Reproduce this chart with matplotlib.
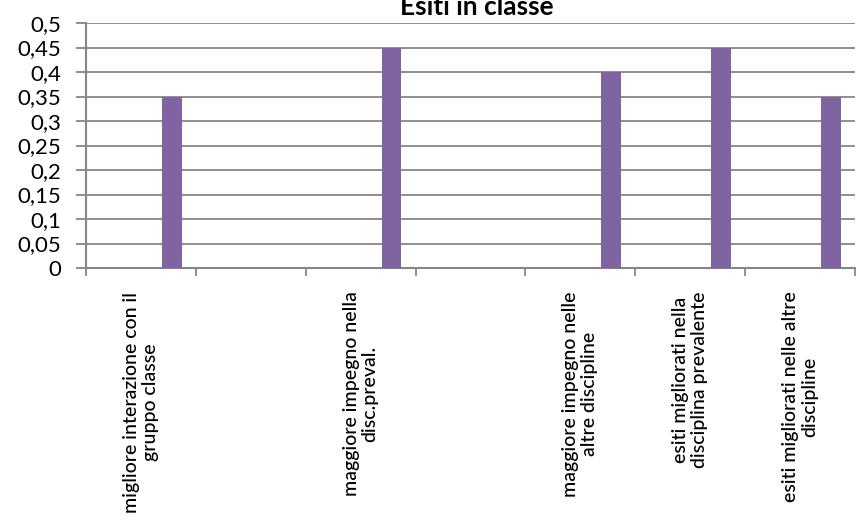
import matplotlib
matplotlib.use("Agg")
import matplotlib.pyplot as plt
import numpy as np

categories = [
    "migliore interazione con il\ngruppo classe",
    "",
    "maggiore impegno nella\ndisc.preval.",
    "",
    "maggiore impegno nelle\naltre discipline",
    "esiti migliorati nella\ndisciplina prevalente",
    "esiti migliorati nelle altre\ndiscipline",
]
values = [0.35, np.nan, 0.45, np.nan, 0.40, 0.45, 0.35]
yticks = [0, 0.05, 0.1, 0.15, 0.2, 0.25, 0.3, 0.35, 0.4, 0.45, 0.5]
ytick_labels = ["0", "0,05", "0,1", "0,15", "0,2", "0,25", "0,3", "0,35", "0,4", "0,45", "0,5"]
title = "Esiti in classe"

plt.rcParams['font.family'] = ['Lato', 'DejaVu Sans']

W, H = 866, 532
fig = plt.figure(figsize=(W / 100, H / 100), dpi=100)
ax = fig.add_axes([86 / W, 1 - 268 / H, (855 - 86) / W, (268 - 23) / H])

grid_col = "#868686"
x = np.arange(len(categories))
ax.bar(x + 0.28, values, width=0.18, color="#8064A2", zorder=3)

ax.set_xlim(-0.5, len(categories) - 0.5)
ax.set_ylim(0, 0.5)
ax.set_yticks(yticks)
ax.set_yticklabels(ytick_labels, fontsize=16)
ax.yaxis.grid(True, color=grid_col, linewidth=1.3, zorder=0)
ax.set_axisbelow(True)

ax.set_xticks(np.arange(len(categories) + 1) - 0.5)
ax.set_xticklabels([])
ax.tick_params(axis='x', length=6, color=grid_col, width=1.3, direction='out')
ax.tick_params(axis='y', length=7, color=grid_col, width=1.3, direction='out', pad=11)

for s in ['top', 'right']:
    ax.spines[s].set_visible(False)
for s in ['left', 'bottom']:
    ax.spines[s].set_color(grid_col)
    ax.spines[s].set_linewidth(1.5)

for i, lab in enumerate(categories):
    if lab:
        ax.text(i, -0.048, lab, rotation=90, ha='center', va='top',
                multialignment='center', fontsize=14, linespacing=1.15,
                fontweight='medium',
                transform=ax.transData, clip_on=False)

fig.text(477 / W, 1 - 15 / H, title, ha='center', va='baseline',
         fontsize=19, fontweight='bold')

fig.savefig("out.png", dpi=100)
